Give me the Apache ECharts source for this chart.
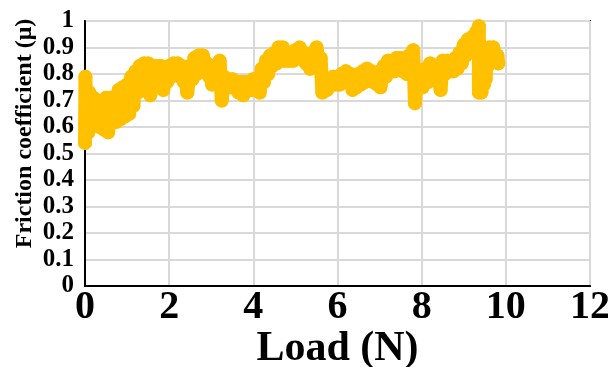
<!DOCTYPE html>
<html>
<head>
<meta charset="utf-8">
<script src="https://cdn.jsdelivr.net/npm/echarts@6/dist/echarts.min.js"></script>
<style>
  html, body { margin: 0; padding: 0; background: #fff; }
  #chart { width: 608px; height: 367px; }
</style>
</head>
<body>
<div id="chart"></div>
<script>
// load (N)
var loadN = [
  0.00, 0.01, 0.03, 0.05, 0.08, 0.10, 0.15, 0.20, 0.25, 0.30,
  0.35, 0.40, 0.45, 0.50, 0.55, 0.60, 0.65, 0.70, 0.75, 0.80,
  0.85, 0.90, 0.95, 1.00, 1.05, 1.10, 1.15, 1.20, 1.25, 1.30,
  1.35, 1.40, 1.45, 1.50, 1.55, 1.60, 1.65, 1.70, 1.75, 1.80,
  1.86, 1.90, 1.95, 2.00, 2.05, 2.10, 2.15, 2.20, 2.25, 2.30,
  2.35, 2.40, 2.43, 2.50, 2.55, 2.60, 2.65, 2.70, 2.75, 2.80,
  2.85, 2.90, 2.95, 3.00, 3.02, 3.10, 3.15, 3.20, 3.25, 3.30,
  3.35, 3.40, 3.45, 3.50, 3.55, 3.60, 3.65, 3.70, 3.76, 3.80,
  3.85, 3.90, 3.95, 4.00, 4.05, 4.10, 4.15, 4.20, 4.25, 4.30,
  4.35, 4.40, 4.45, 4.50, 4.55, 4.60, 4.65, 4.70, 4.75, 4.80,
  4.85, 4.90, 4.95, 5.00, 5.05, 5.10, 5.15, 5.20, 5.25, 5.30,
  5.35, 5.40, 5.45, 5.50, 5.55, 5.60, 5.64, 5.70, 5.75, 5.80,
  5.85, 5.90, 5.95, 6.00, 6.05, 6.10, 6.15, 6.20, 6.25, 6.30,
  6.36, 6.40, 6.45, 6.50, 6.55, 6.60, 6.65, 6.70, 6.75, 6.80,
  6.85, 6.90, 6.95, 7.00, 7.02, 7.10, 7.15, 7.20, 7.25, 7.30,
  7.35, 7.40, 7.45, 7.50, 7.55, 7.60, 7.65, 7.70, 7.75, 7.80,
  7.84, 7.88, 7.92, 7.98, 8.02, 8.10, 8.15, 8.20, 8.25, 8.30,
  8.35, 8.40, 8.45, 8.50, 8.55, 8.60, 8.65, 8.70, 8.75, 8.80,
  8.85, 8.90, 8.95, 9.00, 9.05, 9.10, 9.15, 9.20, 9.25, 9.30,
  9.33, 9.36, 9.36, 9.40, 9.42, 9.45, 9.48, 9.50, 9.52, 9.55,
  9.57, 9.60, 9.65, 9.70, 9.75, 9.80, 9.82
];
// friction coefficient (mu)
var friction = [
  0.54, 0.79, 0.62, 0.74, 0.58, 0.73, 0.60, 0.71, 0.62, 0.70,
  0.60, 0.68, 0.59, 0.71, 0.58, 0.71, 0.62, 0.69, 0.62, 0.74,
  0.63, 0.75, 0.64, 0.76, 0.65, 0.79, 0.68, 0.81, 0.73, 0.83,
  0.76, 0.84, 0.77, 0.84, 0.72, 0.82, 0.78, 0.83, 0.78, 0.83,
  0.74, 0.82, 0.77, 0.83, 0.79, 0.84, 0.80, 0.84, 0.79, 0.83,
  0.77, 0.80, 0.73, 0.83, 0.78, 0.86, 0.80, 0.87, 0.82, 0.87,
  0.81, 0.84, 0.79, 0.82, 0.76, 0.83, 0.78, 0.85, 0.70, 0.79,
  0.75, 0.78, 0.75, 0.78, 0.75, 0.77, 0.73, 0.77, 0.72, 0.77,
  0.74, 0.77, 0.74, 0.78, 0.75, 0.78, 0.73, 0.82, 0.77, 0.85,
  0.80, 0.87, 0.83, 0.88, 0.84, 0.90, 0.85, 0.90, 0.85, 0.88,
  0.85, 0.88, 0.85, 0.89, 0.86, 0.90, 0.86, 0.88, 0.84, 0.86,
  0.82, 0.88, 0.83, 0.90, 0.85, 0.86, 0.73, 0.78, 0.74, 0.78,
  0.76, 0.79, 0.76, 0.79, 0.76, 0.80, 0.77, 0.81, 0.77, 0.80,
  0.74, 0.79, 0.75, 0.80, 0.76, 0.81, 0.77, 0.82, 0.78, 0.81,
  0.77, 0.80, 0.76, 0.81, 0.75, 0.83, 0.79, 0.85, 0.81, 0.85,
  0.81, 0.86, 0.82, 0.86, 0.81, 0.84, 0.80, 0.87, 0.82, 0.89,
  0.69, 0.82, 0.76, 0.80, 0.75, 0.82, 0.77, 0.84, 0.78, 0.83,
  0.78, 0.80, 0.74, 0.85, 0.80, 0.85, 0.81, 0.85, 0.81, 0.86,
  0.82, 0.88, 0.84, 0.91, 0.87, 0.93, 0.89, 0.94, 0.91, 0.96,
  0.92, 0.98, 0.73, 0.78, 0.73, 0.80, 0.76, 0.85, 0.78, 0.89,
  0.83, 0.90, 0.85, 0.90, 0.86, 0.87, 0.84
];
var xTicks = [0, 2, 4, 6, 8, 10, 12];
var yTicks = [0, 0.1, 0.2, 0.3, 0.4, 0.5, 0.6, 0.7, 0.8, 0.9, 1];

var points = [];
for (var i = 0; i < loadN.length; i++) {
    points.push([loadN[i], friction[i]]);
}

var myChart = echarts.init(document.getElementById('chart'));
var serif = '"Liberation Serif", "Times New Roman", serif';
var option = {
    animation: false,
    backgroundColor: '#fff',
    grid: {
        left: 85, right: 18, top: 21, bottom: 81,
        outerBoundsMode: 'none',
        containLabel: false,
        show: true, borderColor: '#000', borderWidth: 2
    },
    xAxis: {
        type: 'value',
        min: xTicks[0],
        max: xTicks[xTicks.length - 1],
        interval: 2,
        name: 'Load (N)',
        nameLocation: 'middle',
        nameGap: 42,
        nameMoveOverlap: false,
        nameTextStyle: { fontFamily: serif, fontWeight: 'bold', fontSize: 42, color: '#000' },
        axisLine: { lineStyle: { color: '#000', width: 2 } },
        axisTick: { show: false },
        axisLabel: { fontFamily: serif, fontWeight: 'bold', fontSize: 40, color: '#000', margin: 2 },
        splitLine: { lineStyle: { color: '#d9d9d9', width: 2 } }
    },
    yAxis: {
        type: 'value',
        min: yTicks[0],
        max: yTicks[yTicks.length - 1],
        interval: 0.1,
        name: 'Friction coefficient (μ)',
        nameLocation: 'middle',
        nameGap: 48,
        nameMoveOverlap: false,
        nameRotate: 90,
        nameTextStyle: {
            fontFamily: serif, fontWeight: 'bold', fontSize: 24, color: '#000',
            padding: [0, 0, 0, 40]
        },
        axisLine: { show: true, lineStyle: { color: '#000', width: 2 } },
        axisTick: { show: false },
        axisLabel: {
            fontFamily: serif, fontWeight: 'bold', fontSize: 25, color: '#000', margin: 11,
            formatter: function (v) { return String(Math.round(v * 10) / 10); }
        },
        splitLine: { lineStyle: { color: '#d9d9d9', width: 2 } }
    },
    series: [{
        type: 'line',
        data: points,
        symbol: 'circle',
        symbolSize: 14,
        showAllSymbol: true,
        itemStyle: { color: '#FFC000' },
        lineStyle: { color: '#FFC000', width: 14, join: 'round', cap: 'round' }
    }]
};
myChart.setOption(option);
</script>
</body>
</html>
